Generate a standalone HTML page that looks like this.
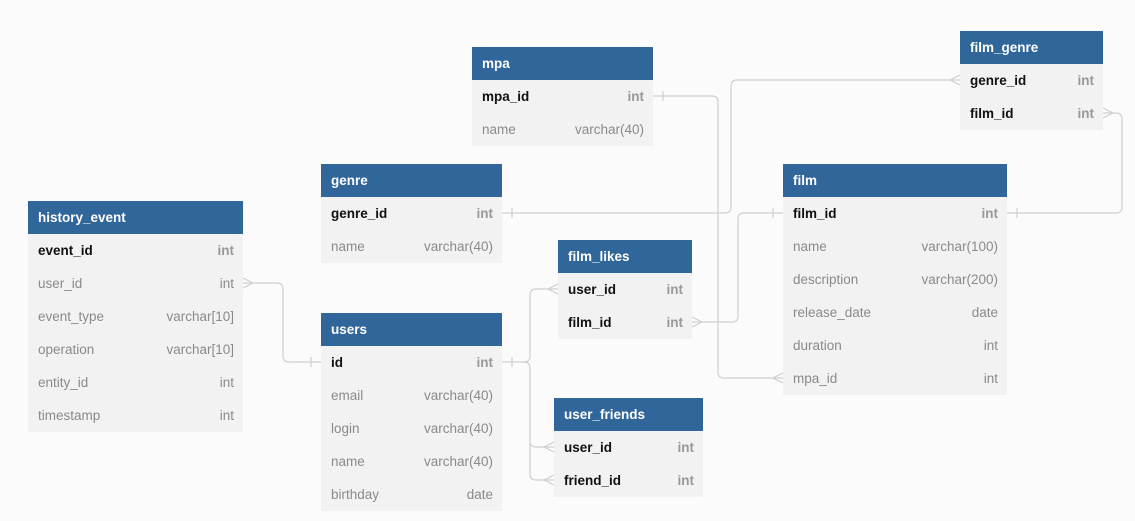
<!DOCTYPE html>
<html><head><meta charset="utf-8"><style>
*{margin:0;padding:0;box-sizing:border-box}
body{width:1135px;height:521px;background:#fbfbfb;position:relative;overflow:hidden;font-family:"Liberation Sans",sans-serif;font-size:13.5px}
.t{position:absolute;background:#f2f2f2}
.h{height:33px;background:#30669a;color:#fff;font-weight:bold;line-height:33px;padding-left:10px}
.r{height:33px;line-height:33px;padding:0 9px 0 10px;display:flex;justify-content:space-between;color:#8a8a8a}
.r.k{color:#111;font-weight:bold}
.r.k span:last-child{color:#999}
svg{position:absolute;left:0;top:0}
</style></head><body>
<svg width="1135" height="521" fill="none" stroke="#cfcfcf" stroke-width="1.2">
<!-- mpa -> film.mpa_id -->
<path d="M653 96 H712 Q718 96 718 102 V372 Q718 378 724 378 H783"/>
<path d="M663 91 V101"/><path d="M783 373 L773 378 L783 383"/>
<!-- genre -> film_genre.genre_id -->
<path d="M502 213 H725 Q731 213 731 207 V86 Q731 80 737 80 H960"/>
<path d="M512 208 V218"/><path d="M960 75 L950 80 L960 85"/>
<!-- film_likes.film_id -> film.film_id -->
<path d="M692 322 H732 Q738 322 738 316 V219 Q738 213 744 213 H783"/>
<path d="M773 208 V218"/><path d="M692 317 L702 322 L692 327"/>
<!-- film.film_id -> film_genre.film_id -->
<path d="M1007 213 H1116 Q1122 213 1122 207 V119 Q1122 113 1116 113 H1103"/>
<path d="M1017 208 V218"/><path d="M1103 108 L1113 113 L1103 118"/>
<!-- history_event.user_id -> users.id -->
<path d="M243 283 H277 Q283 283 283 289 V356 Q283 362 289 362 H321"/>
<path d="M243 278 L253 283 L243 288"/><path d="M311 357 V367"/>
<!-- users.id -> film_likes / user_friends -->
<path d="M502 362 H524 Q530 362 530 356 V295 Q530 289 536 289 H558"/>
<path d="M524 362 Q530 362 530 368 V441 Q530 447 536 447 H554"/>
<path d="M530 441 V474 Q530 480 536 480 H554"/>
<path d="M512 357 V367"/>
<path d="M558 284 L548 289 L558 294"/>
<path d="M554 442 L544 447 L554 452"/>
<path d="M554 475 L544 480 L554 485"/>
</svg>

<div class="t" style="left:472px;top:47px;width:181px">
<div class="h">mpa</div>
<div class="r k"><span>mpa_id</span><span>int</span></div>
<div class="r"><span>name</span><span>varchar(40)</span></div>
</div>

<div class="t" style="left:960px;top:31px;width:143px">
<div class="h">film_genre</div>
<div class="r k"><span>genre_id</span><span>int</span></div>
<div class="r k"><span>film_id</span><span>int</span></div>
</div>

<div class="t" style="left:321px;top:164px;width:181px">
<div class="h">genre</div>
<div class="r k"><span>genre_id</span><span>int</span></div>
<div class="r"><span>name</span><span>varchar(40)</span></div>
</div>

<div class="t" style="left:783px;top:164px;width:224px">
<div class="h">film</div>
<div class="r k"><span>film_id</span><span>int</span></div>
<div class="r"><span>name</span><span>varchar(100)</span></div>
<div class="r"><span>description</span><span>varchar(200)</span></div>
<div class="r"><span>release_date</span><span>date</span></div>
<div class="r"><span>duration</span><span>int</span></div>
<div class="r"><span>mpa_id</span><span>int</span></div>
</div>

<div class="t" style="left:28px;top:201px;width:215px">
<div class="h">history_event</div>
<div class="r k"><span>event_id</span><span>int</span></div>
<div class="r"><span>user_id</span><span>int</span></div>
<div class="r"><span>event_type</span><span>varchar[10]</span></div>
<div class="r"><span>operation</span><span>varchar[10]</span></div>
<div class="r"><span>entity_id</span><span>int</span></div>
<div class="r"><span>timestamp</span><span>int</span></div>
</div>

<div class="t" style="left:558px;top:240px;width:134px">
<div class="h">film_likes</div>
<div class="r k"><span>user_id</span><span>int</span></div>
<div class="r k"><span>film_id</span><span>int</span></div>
</div>

<div class="t" style="left:321px;top:313px;width:181px">
<div class="h">users</div>
<div class="r k"><span>id</span><span>int</span></div>
<div class="r"><span>email</span><span>varchar(40)</span></div>
<div class="r"><span>login</span><span>varchar(40)</span></div>
<div class="r"><span>name</span><span>varchar(40)</span></div>
<div class="r"><span>birthday</span><span>date</span></div>
</div>

<div class="t" style="left:554px;top:398px;width:149px">
<div class="h">user_friends</div>
<div class="r k"><span>user_id</span><span>int</span></div>
<div class="r k"><span>friend_id</span><span>int</span></div>
</div>
</body></html>
